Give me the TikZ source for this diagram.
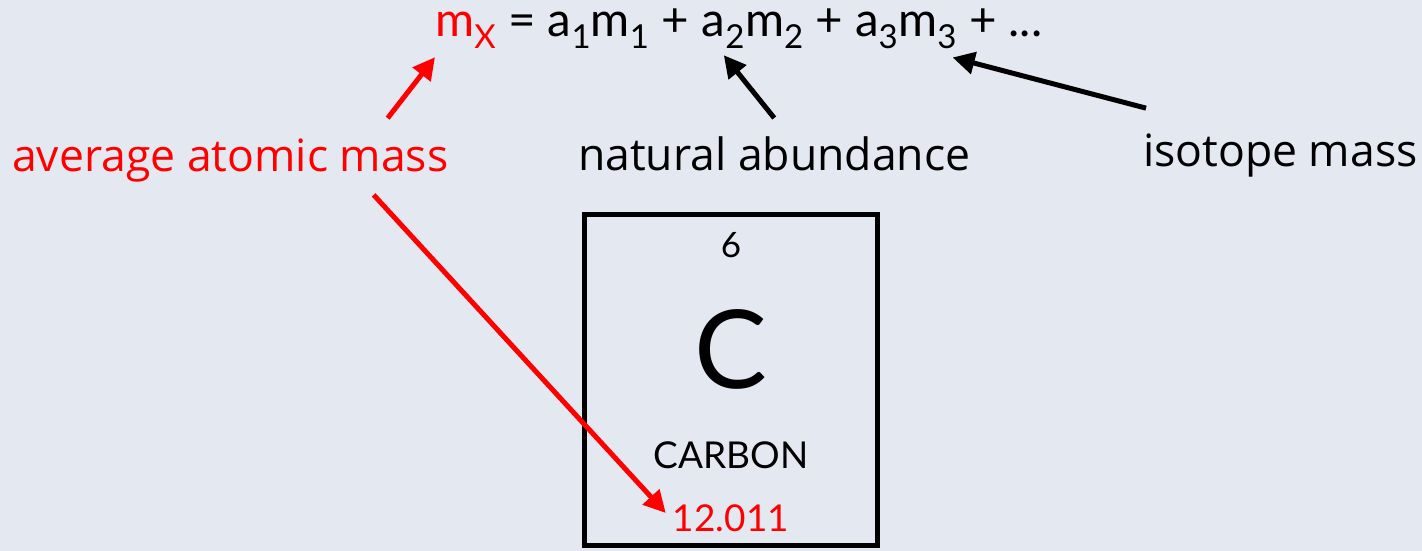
\documentclass[tikz,border=0pt]{standalone}
\usepackage{fontspec}
\setmainfont{Lato}
\newfontfamily\labelfont{Open Sans}
\usetikzlibrary{arrows.meta, positioning}
\definecolor{bgblue}{RGB}{228,232,241}
\definecolor{massred}{RGB}{255,0,0}
\newcommand{\subidx}[1]{\raisebox{-12pt}{\fontsize{33}{33}\selectfont #1}}
\tikzset{
  %% ---- text ----
  eqpart/.style  = {inner sep=0pt, anchor=base west,
                    font=\fontsize{47.5}{47.5}\selectfont},
  tag/.style     = {inner sep=0pt, anchor=base west,
                    font=\labelfont\fontsize{44.5}{44.5}\selectfont},
  elemtext/.style= {inner sep=0pt, font=\fontsize{#1}{#1}\selectfont},
  %% ---- box ----
  elembox/.style = {rectangle, draw=black, line width=5pt,
                    minimum width=293pt, minimum height=331pt, inner sep=0pt},
  %% ---- arrows ----
  arrow/.style   = {-{Triangle[length=22pt,width=22pt]}, line width=5pt, color=black},
  redarrow/.style= {arrow, color=massred},
}
\begin{document}
\begin{tikzpicture}[x=1pt, y=-1pt]

  %% background
  \fill[bgblue] (0,0) rectangle (1422,551);
  \useasboundingbox (0,0) rectangle (1422,551);

  %% formula
  \node[eqpart, text=massred] (mx) at (435,37) {m\subidx{X}};
  \node[eqpart] (eqone) at (mx.base east) {\ = a\subidx{1}m\subidx{1} +\kern0.27em};
  \node[eqpart] (atwo) at (eqone.base east) {a\subidx{2}};
  \node[eqpart] (eqtwo) at (atwo.base east) {m\subidx{2} + a\subidx{3}};
  \node[eqpart] (mthree) at (eqtwo.base east) {m\subidx{3}};
  \node[eqpart] (eqend) at (mthree.base east) {\ + ...};

  %% labels
  \node[tag, text=massred] (avg) at (12,171) {average atomic mass};
  \node[tag] (abund) at (578,170) {natural abundance};
  \node[tag] (iso) at (1143,166) {isotope mass};

  %% element box
  \node[elembox] (box) at (731,380) {};
  \node[elemtext=35] (num) at ([yshift=-33pt]box.north) {6};
  \node[elemtext=109] (sym) at ([yshift=-137pt]box.north) {C};
  \node[elemtext=37] (name) at ([yshift=-243pt]box.north) {CARBON};
  \node[elemtext=37, text=massred] (mass) at ([yshift=-306pt]box.north) {12.011};

  %% arrows
  \draw[redarrow] ([xshift=-61pt,yshift=20pt]avg.north east) -- ([yshift=-8pt]mx.south west);
  \draw[redarrow] ([xshift=-75pt,yshift=-13pt]avg.south east) -- ([xshift=-7pt,yshift=5pt]mass.west);
  \draw[arrow] ([yshift=18pt]abund.north) -- ([xshift=-21pt,yshift=-6pt]atwo.south east);
  \draw[arrow] ([xshift=3pt,yshift=25pt]iso.north west) -- ([xshift=-4pt,yshift=-8pt]mthree.south east);

\end{tikzpicture}
\end{document}
